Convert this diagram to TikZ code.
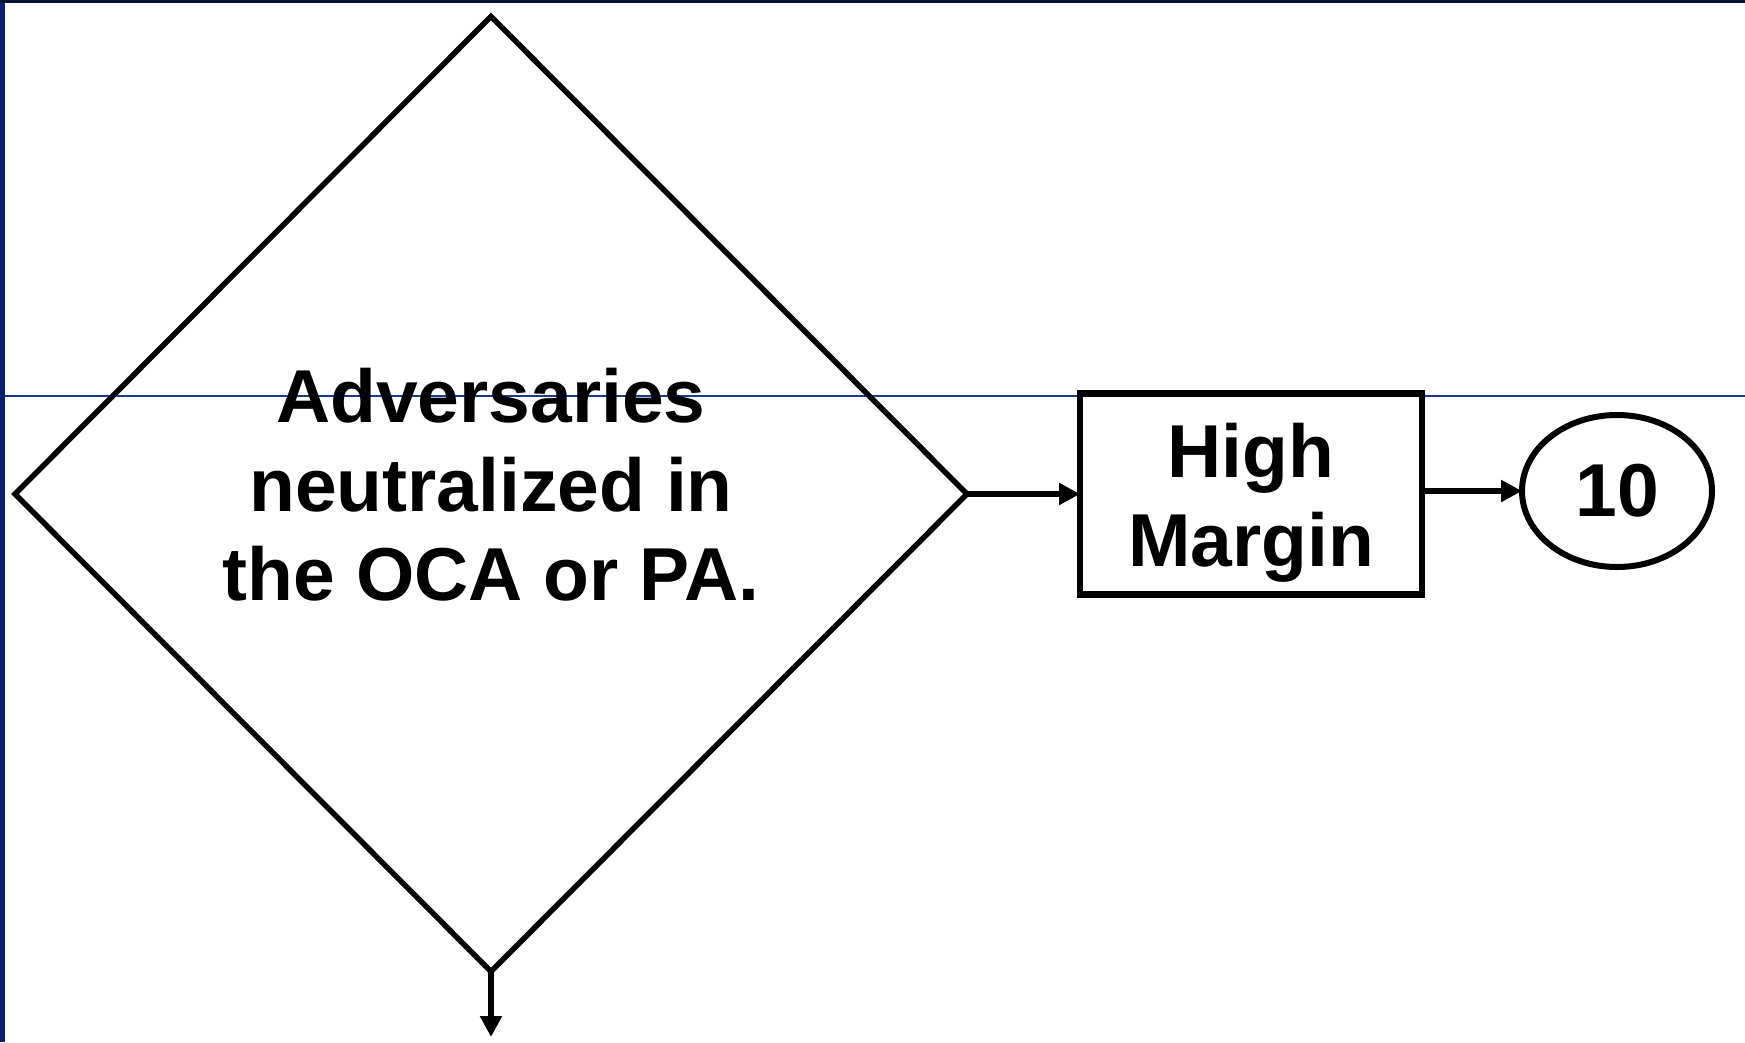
\documentclass[tikz,border=0pt]{standalone}
\usepackage{fontspec}
\setmainfont{Liberation Sans}
\usetikzlibrary{shapes.geometric,arrows.meta}
\definecolor{navy}{HTML}{0A1F6E}
\definecolor{navydark}{HTML}{061236}
\definecolor{guide}{HTML}{1A3A8C}
\tikzset{
  shapeline/.style={draw=black, fill=none, inner sep=0pt, outer sep=0pt},
  flowarrow/.style={draw=black, line width=5.5pt, -{Triangle[length=21pt,width=21pt]}},
  bigtext/.style={font=\bfseries\fontsize{75}{89}\selectfont, text=black, align=center, inner sep=0pt},
}
\begin{document}
\begin{tikzpicture}[x=1pt,y=-1pt]
\useasboundingbox (0,0) rectangle (1745,1042);
\fill[white] (0,0) rectangle (1745,1042);
% frame strips and guide line
\fill[navy] (0,0) rectangle (5,1042);
\fill[navydark] (0,0) rectangle (1745,3);
\draw[guide, line width=1.2pt] (5,396) -- (1745,396);
% decision diamond
\node[shapeline, line width=5.5pt, diamond,
      minimum width=952pt, minimum height=955pt]
  (dec) at (491,494) {};
\node[bigtext] (dectext) at (491,485) {Adversaries\\neutralized in\\the OCA or PA.};
% process box
\node[shapeline, line width=6.5pt, rectangle,
      minimum width=342pt, minimum height=201pt]
  (hm) at (1251,494) {};
\node[bigtext] (hmtext) at (1251,503) {High\\Margin};
% connector ellipse
\node[shapeline, line width=6pt, ellipse,
      minimum width=190pt, minimum height=152pt, bigtext]
  (ten) at (1617,491) {10};
\coordinate (down) at (491,1037);
% connectors
\draw[flowarrow] (dec.east) -- (hm.west |- dec.east);
\draw[flowarrow] (hm.east |- ten.west) -- (ten.west);
\draw[flowarrow] (dec.south) -- (down);
\end{tikzpicture}
\end{document}
